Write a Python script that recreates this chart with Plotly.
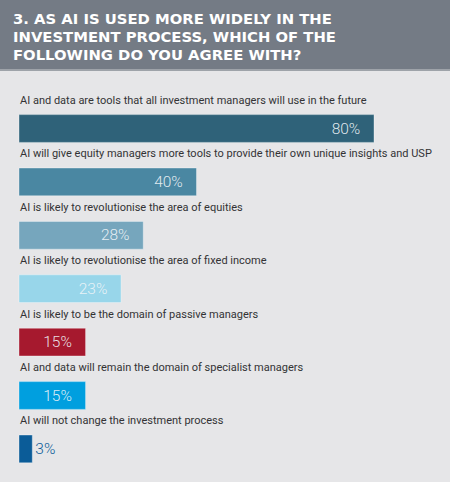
import plotly.graph_objects as go

title_lines = ["3. AS AI IS USED MORE WIDELY IN THE",
               "INVESTMENT PROCESS, WHICH OF THE",
               "FOLLOWING DO YOU AGREE WITH?"]
categories = [
    "AI and data are tools that all investment managers will use in the future",
    "AI will give equity managers more tools to provide their own unique insights and USP",
    "AI is likely to revolutionise the area of equities",
    "AI is likely to revolutionise the area of fixed income",
    "AI is likely to be the domain of passive managers",
    "AI and data will remain the domain of specialist managers",
    "AI will not change the investment process",
]
values = [80, 40, 28, 23, 15, 15, 3]
colors = ["#2f6279", "#4a87a2", "#76a6bd", "#98d6ea", "#a6192e", "#009fdf", "#0b5c98"]

W, H = 450, 482
px_per_unit = 4.4375
x0_px = 19
slot = 53.4
y0_px = 128.5

positions = list(range(len(categories)))

fig = go.Figure()
fig.add_trace(go.Bar(
    x=values, y=positions, orientation="h",
    marker=dict(color=colors, line=dict(color="rgba(255,255,255,0.35)", width=1)),
    width=0.52,
    text=[f"{v}%\u00a0\u00a0\u2009" for v in values],
    textposition="auto",
    insidetextanchor="end",
    constraintext="none",
    insidetextfont=dict(family="Roboto", size=15.5, color="rgba(240,245,248,0.92)", weight=300),
    outsidetextfont=dict(family="Roboto", size=15.5, color=colors, weight=300),
    cliponaxis=False,
    hoverinfo="skip",
))

annotations = []
for i, c in enumerate(categories):
    annotations.append(dict(
        x=0, y=i, xref="x", yref="y", text=c, showarrow=False,
        xanchor="left", yanchor="middle", yshift=28, xshift=-1,
        font=dict(family="Roboto", size=11, color="#333335", weight=400),
    ))

title_y = [19, 36.5, 54]
for t, ypx in zip(title_lines, title_y):
    annotations.append(dict(
        x=12 / W, y=1 - ypx / H, xref="paper", yref="paper", text=t, showarrow=False,
        xanchor="left", yanchor="middle", borderpad=0,
        font=dict(family="DejaVu Sans", size=14.8, color="white", weight=700),
    ))

fig.update_layout(
    width=W, height=H,
    margin=dict(l=0, r=0, t=0, b=0),
    paper_bgcolor="#e6e6e8", plot_bgcolor="#e6e6e8",
    showlegend=False,
    xaxis=dict(range=[-x0_px / px_per_unit, (W - x0_px) / px_per_unit],
               visible=False, fixedrange=True),
    yaxis=dict(range=[(H - y0_px) / slot, -y0_px / slot],
               visible=False, fixedrange=True),
    shapes=[
        dict(type="rect", xref="paper", yref="paper", x0=0, x1=1,
             y0=1 - 69 / H, y1=1, fillcolor="#747b85", line=dict(width=0), layer="below"),
        dict(type="rect", xref="paper", yref="paper", x0=0, x1=1,
             y0=1 - 71 / H, y1=1 - 69 / H, fillcolor="#9ea3a9", line=dict(width=0), layer="below"),
    ],
    annotations=annotations,
)

fig.write_html("out.html")
